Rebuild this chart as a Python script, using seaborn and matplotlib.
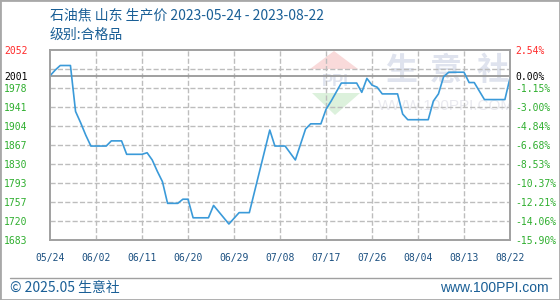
import matplotlib
matplotlib.use("Agg")
import matplotlib.pyplot as plt
from matplotlib.patches import Polygon, Rectangle
from matplotlib.lines import Line2D
import seaborn as sns
import pandas as pd
import numpy as np

# ---------------- data ----------------
dates = ["2023-05-24", "2023-05-25", "2023-05-26", "2023-05-28", "2023-05-29", "2023-05-30",
         "2023-05-31", "2023-06-01", "2023-06-04", "2023-06-05", "2023-06-07", "2023-06-08",
         "2023-06-11", "2023-06-12", "2023-06-13", "2023-06-14", "2023-06-15", "2023-06-16",
         "2023-06-18", "2023-06-19", "2023-06-20", "2023-06-21", "2023-06-24", "2023-06-25",
         "2023-06-26", "2023-06-27", "2023-06-28", "2023-06-30", "2023-07-02", "2023-07-06",
         "2023-07-07", "2023-07-09", "2023-07-11", "2023-07-13", "2023-07-14", "2023-07-16",
         "2023-07-17", "2023-07-18", "2023-07-20", "2023-07-23", "2023-07-24", "2023-07-25",
         "2023-07-26", "2023-07-27", "2023-07-28", "2023-07-31", "2023-08-01", "2023-08-02",
         "2023-08-06", "2023-08-07", "2023-08-08", "2023-08-09", "2023-08-10", "2023-08-13",
         "2023-08-14", "2023-08-15", "2023-08-17", "2023-08-21", "2023-08-22"]
prices = [2001, 2012, 2021, 2021, 1932, 1910,
          1886, 1865, 1865, 1875, 1875, 1849,
          1849, 1852, 1838, 1816, 1796, 1754,
          1754, 1762, 1762, 1726, 1726, 1750,
          1738, 1726, 1714, 1736, 1736, 1896,
          1865, 1865, 1838, 1898, 1908, 1908,
          1936, 1952, 1987, 1987, 1969, 1996,
          1983, 1979, 1966, 1966, 1927, 1916,
          1916, 1952, 1966, 1999, 2008, 2008,
          1988, 1988, 1955, 1955, 1997]

base_price = 2001
y_min, y_max = 1683, 2052
left_ticks = [1683, 1720, 1757, 1793, 1830, 1867, 1904, 1941, 1978, 2001, 2052]
left_labels = ["1683", "1720", "1757", "1793", "1830", "1867", "1904", "1941", "1978", "2001", "2052"]
right_labels = ["-15.90%", "-14.06%", "-12.21%", "-10.37%", "-8.53%", "-6.68%", "-4.84%",
                "-3.00%", "-1.15%", "0.00%", "2.54%"]
x_tick_dates = ["2023-05-24", "2023-06-02", "2023-06-11", "2023-06-20", "2023-06-29", "2023-07-08",
                "2023-07-17", "2023-07-26", "2023-08-04", "2023-08-13", "2023-08-22"]
x_tick_labels = ["05/24", "06/02", "06/11", "06/20", "06/29", "07/08",
                 "07/17", "07/26", "08/04", "08/13", "08/22"]
title = "石油焦 山东 生产价 2023-05-24 - 2023-08-22"
subtitle = "级别:合格品"
footer_left = "© 2025.05 生意社"
footer_right = "www.100PPI.com"

# ---------------- style ----------------
sns.set_theme(style="white")
plt.rcParams['font.family'] = ['Noto Sans CJK SC', 'DejaVu Sans']

W, H = 560, 300
fig = plt.figure(figsize=(W / 100, H / 100), dpi=100)
fig.patch.set_facecolor("white")

def fx(px):
    return px / W

def fy(py):
    return 1 - py / H

ax = fig.add_axes([fx(50), fy(240), fx(510) - fx(50), fy(49.5) - fy(240)])
ax.set_facecolor("white")

df = pd.DataFrame({"date": pd.to_datetime(dates), "price": prices})
xt = pd.to_datetime(x_tick_dates)

sns.lineplot(data=df, x="date", y="price", ax=ax, color="#3a9ad9", lw=1.2, zorder=5)

ax.set_xlim(pd.Timestamp(x_tick_dates[0]), pd.Timestamp(x_tick_dates[-1]))
ax.set_ylim(y_min, y_max)
ax.set_xlabel("")
ax.set_ylabel("")

# dashed grid
grid_levels = np.linspace(y_min, y_max, 11)[1:-1]
for gv in grid_levels:
    ax.plot([xt[0], xt[-1]], [gv, gv], color="#bdbdbd", lw=1.0, ls="--", zorder=3)
for xv in xt[1:-1]:
    ax.plot([xv, xv], [y_min, y_max], color="#bdbdbd", lw=1.0, ls="--", zorder=3)
ax.axhline(base_price, color="#999999", lw=1.3, zorder=4)

mono = "DejaVu Sans Mono"
ax.set_yticks(left_ticks)
ax.set_yticklabels(left_labels, fontfamily=mono, fontsize=7)
ax.set_xticks(xt)
ax.set_xticklabels(x_tick_labels, fontfamily=mono, fontsize=7, color="#1a4f80")
ax.tick_params(axis="y", length=0, pad=16)
ax.tick_params(axis="x", length=0, pad=9)
green = "#2eae2e"
for lab, v in zip(ax.get_yticklabels(), left_ticks):
    lab.set_color("#ff2a2a" if v > base_price else ("#000000" if v == base_price else green))

ax2 = ax.twinx()
ax2.patch.set_visible(False)
ax2.set_ylim(y_min, y_max)
ax2.set_yticks(left_ticks)
ax2.set_yticklabels(right_labels, fontfamily=mono, fontsize=7)
ax2.tick_params(axis="y", length=0, pad=4)
for lab, v in zip(ax2.get_yticklabels(), left_ticks):
    lab.set_color("#ff2a2a" if v > base_price else ("#000000" if v == base_price else green))
ax2.grid(False)

for a in (ax, ax2):
    for s in a.spines.values():
        s.set_color("#a0a0a0")
        s.set_linewidth(1.2)

# ---------------- watermark (inside the axes, under the line) ----------------
wm = "#dfe3ee"
ax.add_patch(Polygon([(fx(334), fy(51)), (fx(310), fy(69)), (fx(358), fy(69))],
                     closed=True, transform=fig.transFigure, facecolor="#f9dada",
                     edgecolor="none", zorder=1))
ax.add_patch(Polygon([(fx(312), fy(93)), (fx(360), fy(93)), (fx(335), fy(115))],
                     closed=True, transform=fig.transFigure, facecolor="#dcf1dc",
                     edgecolor="none", zorder=1))
ax.text(fx(335), fy(81), "PPI", transform=fig.transFigure, ha="center", va="center",
        fontsize=12, fontweight="bold", color=wm, family="Liberation Sans", zorder=1)
for cx, ch in zip([401, 446, 493], "生意社"):
    ax.text(fx(cx), fy(71), ch, transform=fig.transFigure, ha="center", va="center",
            fontsize=23, fontweight="bold", color=wm, zorder=1)
ax.text(fx(446), fy(106), "WWW.100PPI.COM", transform=fig.transFigure, ha="center",
        va="center", fontsize=11, color="#e9e9ef", family="Liberation Sans", zorder=1)

# ---------------- titles / footer ----------------
fig.text(fx(50), fy(15), title, ha="left", va="center", fontsize=10, color="#1a5f96")
fig.text(fx(50), fy(35), subtitle, ha="left", va="center", fontsize=10, color="#1a5f96")
fig.add_artist(Line2D([fx(10), fx(551)], [fy(277.5), fy(277.5)], transform=fig.transFigure,
                      color="#a0a0a0", lw=1))
fig.text(fx(10), fy(288), footer_left, ha="left", va="center", fontsize=10, color="#1a5f96")
fig.text(fx(549), fy(288), footer_right, ha="right", va="center", fontsize=10, color="#1a5f96",
         family="Liberation Sans")
fig.add_artist(Rectangle((0, 0), 1, 1, transform=fig.transFigure, fill=False,
                         edgecolor="#a8a8a8", lw=2))

fig.savefig("out.png", dpi=100)
